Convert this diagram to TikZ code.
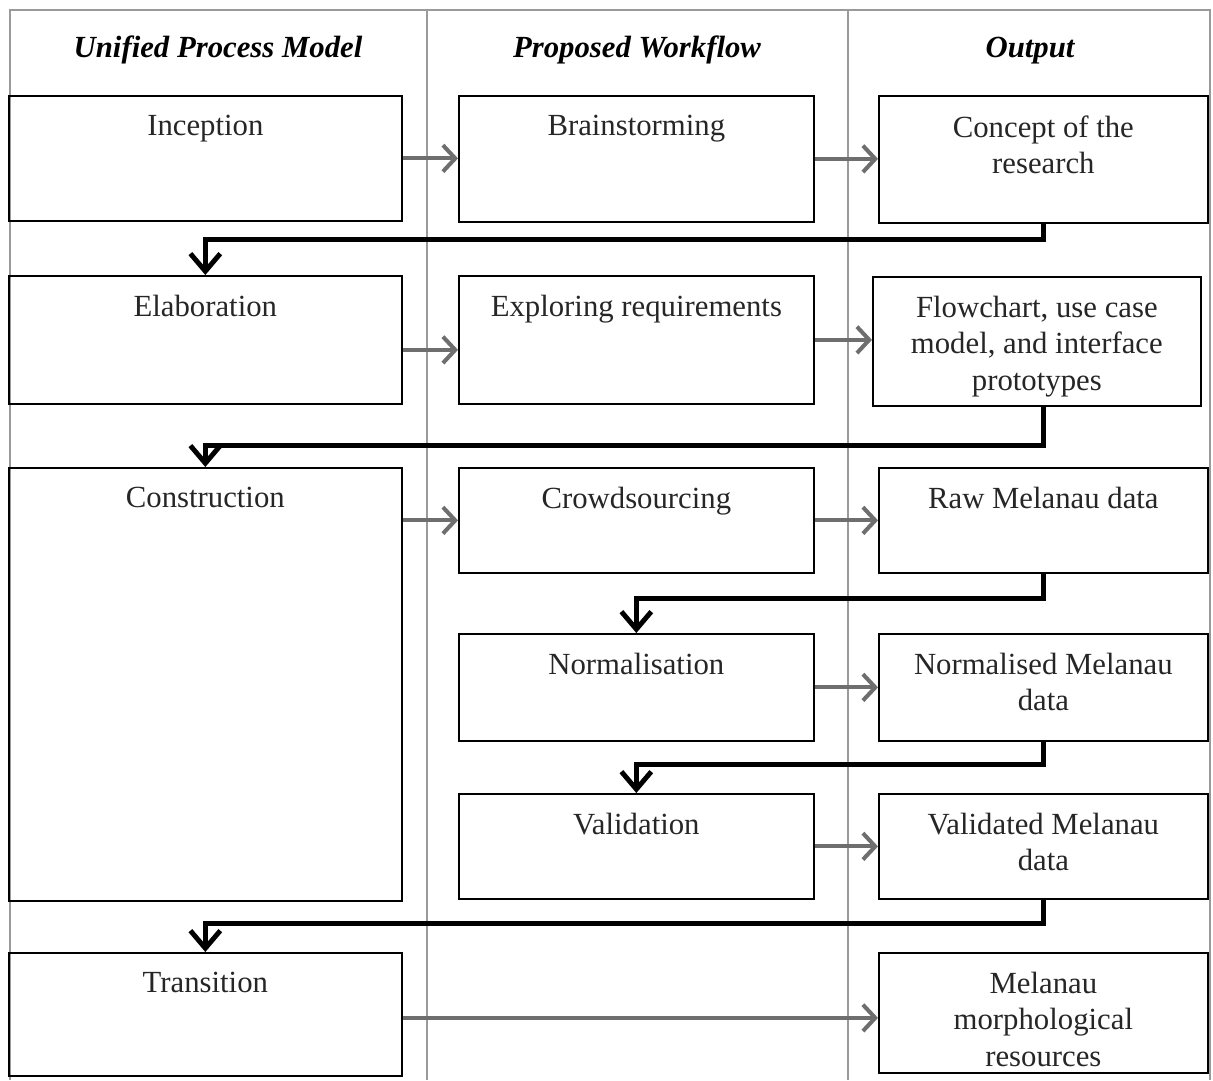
\documentclass[tikz,border=0pt]{standalone}
\usepackage{fontspec}
\setmainfont{Liberation Serif}
\usepackage{xcolor}
\usetikzlibrary{arrows.meta,positioning}

\definecolor{framegray}{HTML}{9A9A9A}
\definecolor{arrgray}{HTML}{6E6E6E}

\begin{document}
\begin{tikzpicture}[x=0.02cm,y=-0.02cm,
 box/.style={draw,line width=1pt,anchor=north west,inner sep=0pt},
 txt/.style={inner sep=0pt,align=center,text=black!85,font=\fontsize{17.5}{20.6}\selectfont},
 head/.style={inner sep=0pt,anchor=base,font=\fontsize{17.5}{20.6}\selectfont\bfseries\itshape},
 arr/.style={draw=arrgray,line width=2.3pt,-{Straight Barb[length=7pt,width=15pt]}},
 flow/.style={draw=black,line width=2.8pt,-{Straight Barb[length=10pt,width=17pt]}}]
 \useasboundingbox (0,0) rectangle (1213,1080);
 \draw[framegray,line width=0.8pt] (10,1080) |- (1210,10) -- (1210,1080);
 \draw[framegray,line width=0.8pt] (427,10) -- (427,1080) (848,10) -- (848,1080);

 \node[head] (hupm) at (218,57) {Unified Process Model};
 \node[head] (hwf) at (637,57) {Proposed Workflow};
 \node[head] (hout) at (1030,57) {Output};

 \node[box,minimum width=7.86cm,minimum height=2.50cm] (inc) at (8,95) {};
 \node[box,minimum width=7.10cm,minimum height=2.52cm] (bra) at (458,95) {};
 \node[box,minimum width=6.58cm,minimum height=2.54cm] (cpt) at (878,95) {};
 \node[box,minimum width=7.86cm,minimum height=2.56cm] (ela) at (8,275) {};
 \node[box,minimum width=7.10cm,minimum height=2.56cm] (exr) at (458,275) {};
 \node[box,minimum width=6.56cm,minimum height=2.58cm] (flw) at (872,276) {};
 \node[box,minimum width=7.86cm,minimum height=8.66cm] (cons) at (8,467) {};
 \node[box,minimum width=7.10cm,minimum height=2.10cm] (crw) at (458,467) {};
 \node[box,minimum width=6.58cm,minimum height=2.10cm] (raw) at (878,467) {};
 \node[box,minimum width=7.10cm,minimum height=2.14cm] (nrm) at (458,633) {};
 \node[box,minimum width=6.58cm,minimum height=2.14cm] (nmd) at (878,633) {};
 \node[box,minimum width=7.10cm,minimum height=2.10cm] (val) at (458,793) {};
 \node[box,minimum width=6.58cm,minimum height=2.10cm] (vld) at (878,793) {};
 \node[box,minimum width=7.86cm,minimum height=2.46cm] (tra) at (8,952) {};
 \node[box,minimum width=6.58cm,minimum height=2.40cm] (mor) at (878,952) {};

 \node[txt,below=0.4cm of inc.north] (inct) {Inception};
 \node[txt,below=0.4cm of bra.north] (brat) {Brainstorming};
 \node[txt,below=0.4cm of cpt.north] (cptt) {Concept of the\\research};
 \node[txt,below=0.4cm of ela.north] (elat) {Elaboration};
 \node[txt,below=0.4cm of exr.north] (exrt) {Exploring requirements};
 \node[txt,below=0.4cm of flw.north] (flwt) {Flowchart, use case\\model, and interface\\prototypes};
 \node[txt,below=0.4cm of cons.north] (const) {Construction};
 \node[txt,below=0.4cm of crw.north] (crwt) {Crowdsourcing};
 \node[txt,below=0.4cm of raw.north] (rawt) {Raw Melanau data};
 \node[txt,below=0.4cm of nrm.north] (nrmt) {Normalisation};
 \node[txt,below=0.4cm of nmd.north] (nmdt) {Normalised Melanau\\data};
 \node[txt,below=0.4cm of val.north] (valt) {Validation};
 \node[txt,below=0.4cm of vld.north] (vldt) {Validated Melanau\\data};
 \node[txt,below=0.4cm of tra.north] (trat) {Transition};
 \node[txt,below=0.4cm of mor.north] (mort) {Melanau\\morphological\\resources};

 \draw[arr] (inc.east) -- (inc.east -| bra.west);
 \draw[arr] (bra.east) -- (bra.east -| cpt.west);
 \draw[arr] ([yshift=-0.2cm]ela.east) -- ([yshift=-0.2cm]ela.east -| exr.west);
 \draw[arr] (exr.east) -- (exr.east -| flw.west);
 \draw[arr] (crw.west -| cons.east) -- (crw.west);
 \draw[arr] (crw.east) -- (raw.west);
 \draw[arr] (nrm.east) -- (nmd.west);
 \draw[arr] (val.east) -- (vld.west);
 \draw[arr] ([yshift=-0.07cm]tra.east) -- ([yshift=-0.07cm]tra.east -| mor.west);

 \draw[flow] (cpt.south) -- ++(0,16) -| (ela.north);
 \draw[flow] (flw.south -| cpt.south) -- ++(0,39) -| (cons.north);
 \draw[flow] (raw.south) -- ++(0,25) -| (nrm.north);
 \draw[flow] (nmd.south) -- ++(0,23) -| (val.north);
 \draw[flow] (vld.south) -- ++(0,24) -| (tra.north);
\end{tikzpicture}
\end{document}
